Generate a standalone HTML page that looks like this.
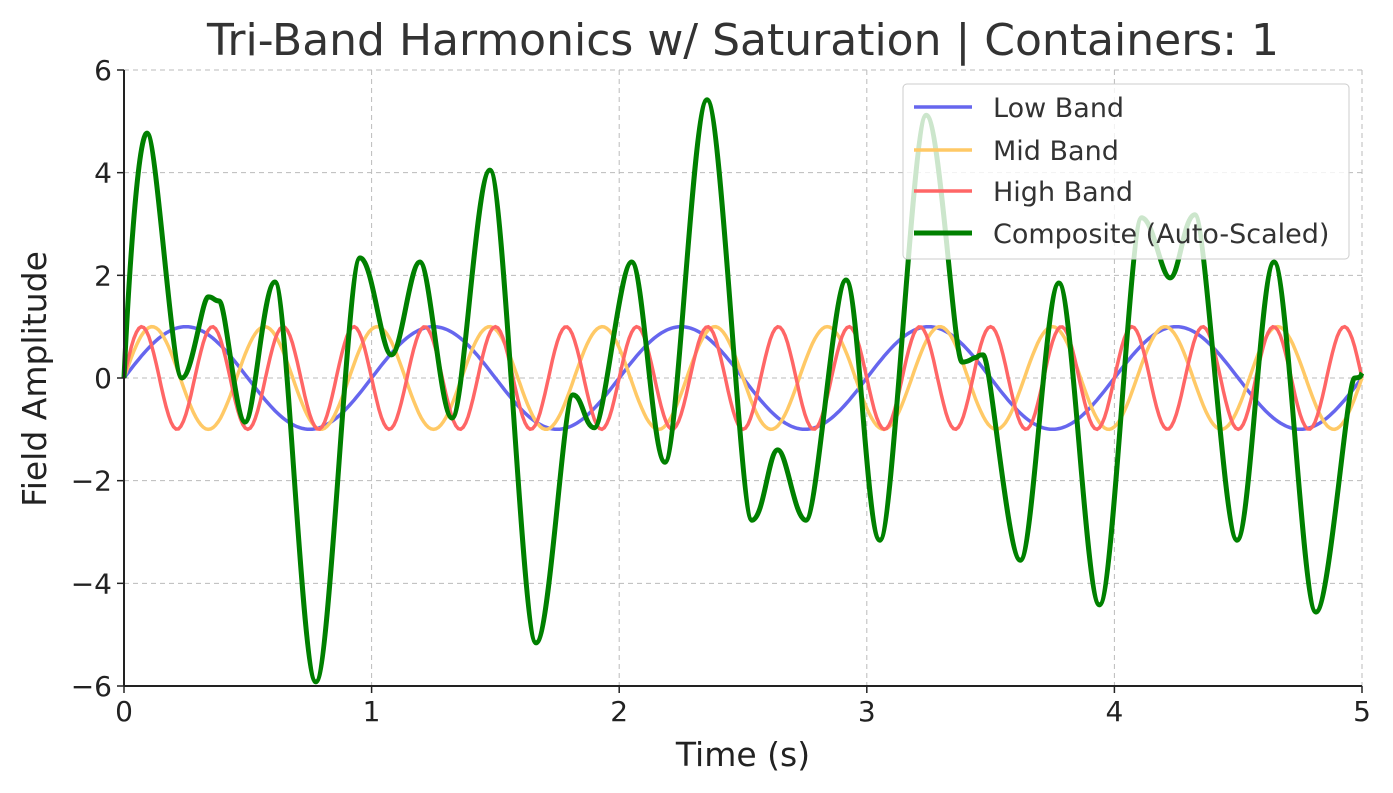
<!DOCTYPE html>
<html><head><meta charset="utf-8"><style>
body{margin:0;background:#fff;}
svg{display:block;font-family:"DejaVu Sans","Liberation Sans",sans-serif;}
</style></head><body>
<svg id="chart" width="1393" height="793">
<text x="743" y="55" text-anchor="middle" font-size="44" fill="#333">Tri-Band Harmonics w/ Saturation | Containers: 1</text>
<g id="grid"></g><g id="series"></g><g id="axes"></g>
<text x="743" y="766" text-anchor="middle" font-size="33" fill="#222">Time (s)</text>
<text transform="translate(46,379) rotate(-90)" text-anchor="middle" font-size="33" fill="#222">Field Amplitude</text>
<g>
<rect x="903" y="84" width="446" height="175" rx="4" fill="#fff" fill-opacity="0.8" stroke="#ccc"/>
<line x1="914" y1="107" x2="972" y2="107" stroke="#6666ee" stroke-width="3.5"/>
<text x="993" y="117" font-size="27" fill="#333">Low Band</text>
<line x1="914" y1="150" x2="972" y2="150" stroke="#ffc966" stroke-width="3.5"/>
<text x="993" y="160" font-size="27" fill="#333">Mid Band</text>
<line x1="914" y1="191" x2="972" y2="191" stroke="#ff6666" stroke-width="3.5"/>
<text x="993" y="201" font-size="27" fill="#333">High Band</text>
<line x1="914" y1="233" x2="972" y2="233" stroke="#008000" stroke-width="5"/>
<text x="993" y="243" font-size="27" fill="#333">Composite (Auto-Scaled)</text>
</g>
</svg>
<script>
const xTicks=[0,1,2,3,4,5];
const yTicks=[-6,-4,-2,0,2,4,6];
const bandNames=["low","mid","high"];
const bandFreqs=[1,2.2,3.5];
const bandAmps=[1,1,1];
const bandColors=["#6666ee","#ffc966","#ff6666"];
const compT=[0,0.093,0.234,0.34,0.385,0.489,0.61,0.775,0.953,1.08,1.195,1.325,1.478,1.664,1.813,1.9,2.05,2.185,2.355,2.536,2.64,2.754,2.916,3.053,3.24,3.385,3.44,3.47,3.62,3.776,3.94,4.11,4.225,4.325,4.495,4.645,4.814,4.97,5.0];
const compV=[0,4.77,0.0,1.58,1.5,-0.86,1.87,-5.92,2.34,0.45,2.26,-0.78,4.05,-5.16,-0.33,-0.97,2.26,-1.64,5.42,-2.77,-1.4,-2.77,1.91,-3.16,5.12,0.31,0.4,0.45,-3.55,1.85,-4.42,3.12,1.95,3.18,-3.16,2.26,-4.56,0,0.1];
const X0=124,X1=1362,Y0=686,Y1=70;
const sx=t=>X0+(t-0)/(5-0)*(X1-X0);
const sy=v=>Y0-(v+6)/12*(Y0-Y1);
const NS="http://www.w3.org/2000/svg";
function mk(tag,attrs,parent){const e=document.createElementNS(NS,tag);for(const k in attrs)e.setAttribute(k,attrs[k]);parent.appendChild(e);return e;}
const grid=document.getElementById('grid'),axes=document.getElementById('axes'),series=document.getElementById('series');
xTicks.forEach(t=>{
 const g=mk('line',{x1:sx(t),x2:sx(t),y1:Y1,y2:Y0,stroke:'#bbb','stroke-dasharray':'5,4','stroke-width':1},grid);
 
 
 mk('line',{x1:sx(t),x2:sx(t),y1:Y0,y2:Y0+7,stroke:'#222','stroke-width':1.5},axes);
 const l=mk('text',{x:sx(t),y:Y0+35,'text-anchor':'middle','font-size':28,fill:'#222'},axes);
 l.textContent=String(t);
 
 
});
yTicks.forEach(v=>{
 const g=mk('line',{x1:X0,x2:X1,y1:sy(v),y2:sy(v),stroke:'#bbb','stroke-dasharray':'5,4','stroke-width':1},grid);
 
 
 mk('line',{x1:X0-7,x2:X0,y1:sy(v),y2:sy(v),stroke:'#222','stroke-width':1.5},axes);
 const l=mk('text',{x:X0-12,y:sy(v)+10,'text-anchor':'end','font-size':28,fill:'#222'},axes);
 l.textContent=v<0?'\u2212'+Math.abs(v):String(v);
 
 
});
const ax1=mk('line',{x1:X0,x2:X0,y1:Y1,y2:Y0,stroke:'#222','stroke-width':2},axes);


const ax2=mk('line',{x1:X0,x2:X1,y1:Y0,y2:Y0,stroke:'#222','stroke-width':2},axes);


bandFreqs.forEach((f,i)=>{
 let d='';
 for(let k=0;k<=500;k++){const t=k/100;const v=bandAmps[i]*Math.sin(2*Math.PI*f*t);d+=(k?'L':'M')+sx(t).toFixed(1)+','+sy(v).toFixed(1);}
 const p=mk('path',{d:d,fill:'none',stroke:bandColors[i],'stroke-width':3.5},series);
 
 
});
(function(){
 const n=compT.length;const P=compT.map((t,i)=>[sx(t),sy(compV[i])]);
 let d='M'+P[0][0]+','+P[0][1];
 for(let i=0;i<n-1;i++){
  const p0=P[Math.max(0,i-1)],p1=P[i],p2=P[i+1],p3=P[Math.min(n-1,i+2)];
  const c1=[p1[0]+(p2[0]-p0[0])/6,p1[1]];
  const c2=[p2[0]-(p3[0]-p1[0])/6,p2[1]];
  if(i===0){c1[1]=p1[1]+(p2[1]-p1[1])/3;}
  if(i===n-2){c2[1]=p2[1]-(p2[1]-p1[1])/3;}
  d+='C'+c1[0].toFixed(1)+','+c1[1].toFixed(1)+' '+c2[0].toFixed(1)+','+c2[1].toFixed(1)+' '+p2[0].toFixed(1)+','+p2[1].toFixed(1);
 }
 const p=mk('path',{d:d,fill:'none',stroke:'#008000','stroke-width':5,'stroke-linejoin':'round'},series);
 
 
})();
</script>
</body></html>
